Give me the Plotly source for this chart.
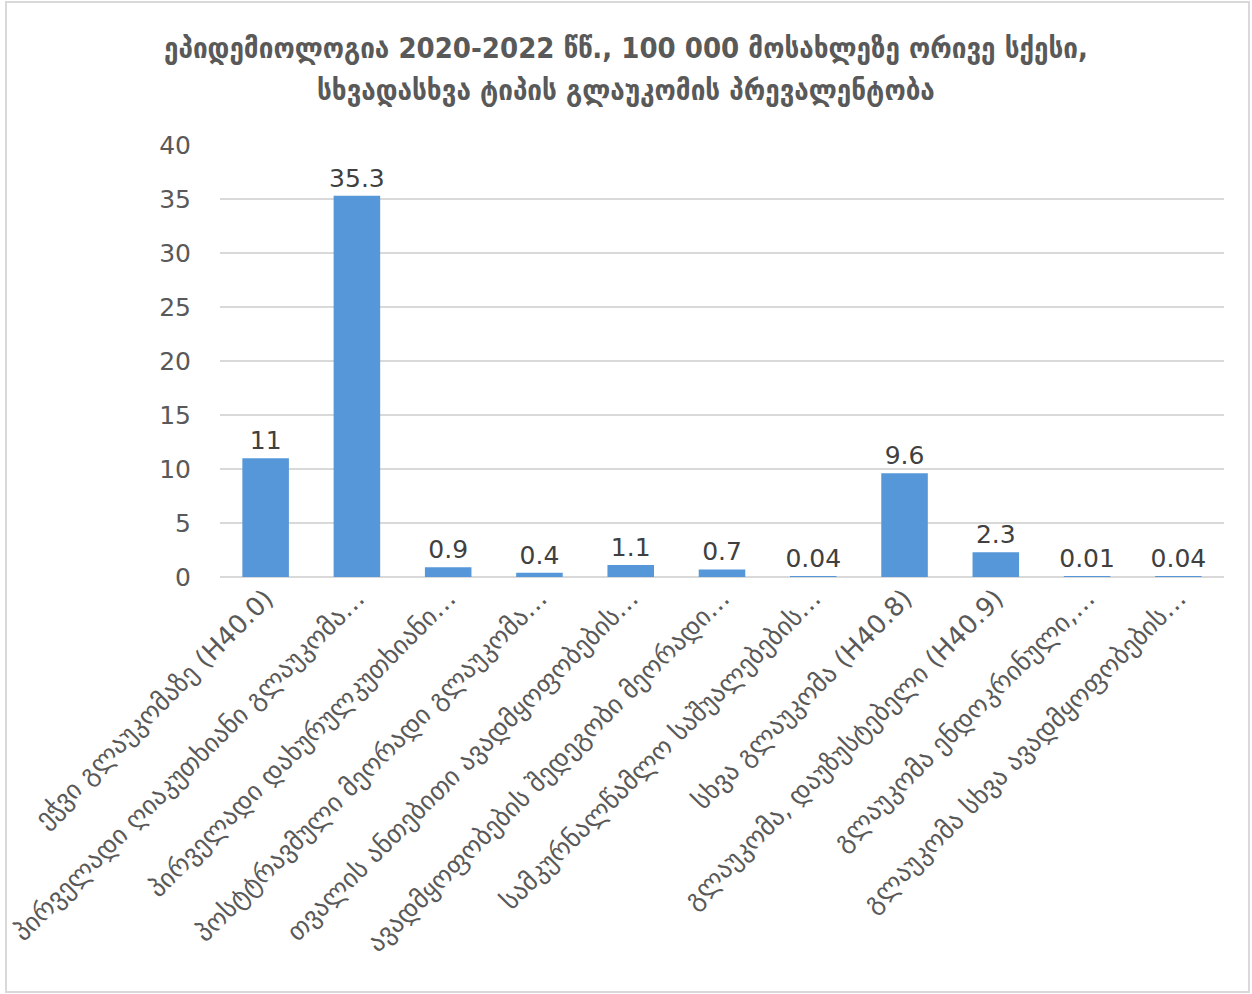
import plotly.graph_objects as go

categories = [
    "ეჭვი გლაუკომაზე (H40.0)",
    "პირველადი ღიაკუთხიანი გლაუკომა…",
    "პირველადი დახურულკუთხიანი…",
    "პოსტტრავმული მეორადი გლაუკომა…",
    "თვალის ანთებითი ავადმყოფობების…",
    "ავადმყოფობების შედეგობი მეორადი…",
    "სამკურნალწამლო საშუალებების…",
    "სხვა გლაუკომა (H40.8)",
    "გლაუკომა, დაუზუსტებელი (H40.9)",
    "გლაუკომა ენდოკრინული,…",
    "გლაუკომა სხვა ავადმყოფობების…",
]
values = [11, 35.3, 0.9, 0.4, 1.1, 0.7, 0.04, 9.6, 2.3, 0.01, 0.04]
value_labels = ["11", "35.3", "0.9", "0.4", "1.1", "0.7", "0.04", "9.6", "2.3", "0.01", "0.04"]
y_ticks = [0, 5, 10, 15, 20, 25, 30, 35, 40]

title_lines = [
    "ეპიდემიოლოგია 2020-2022 წწ., 100 000 მოსახლეზე ორივე სქესი,",
    "სხვადასხვა ტიპის გლაუკომის პრევალენტობა",
]

W, H = 1252, 994
L, R, T, B = 220, 28, 145, 417
pw, ph = W - L - R, H - T - B

fig = go.Figure()
fig.add_trace(go.Bar(
    x=categories,
    y=values,
    text=value_labels,
    textposition="outside",
    constraintext="none",
    textfont=dict(family="DejaVu Sans, sans-serif", size=25, color="#404040"),
    cliponaxis=False,
    marker=dict(color="#5597d8", line=dict(width=0)),
    hoverinfo="x+y",
))

title_font = dict(family="DejaVu Sans Condensed, DejaVu Sans, sans-serif", size=29,
                  color="#595959", weight="bold")
annotations = []
for i, line in enumerate(title_lines):
    ypx = 48 + 42 * i
    annotations.append(dict(
        text=line, showarrow=False,
        xref="paper", yref="paper",
        x=(W / 2 - L) / pw, xanchor="center",
        y=1 + (T - ypx) / ph, yanchor="middle",
        font=title_font,
    ))

fig.update_layout(
    width=W, height=H,
    margin=dict(l=L, r=R, t=T, b=B, autoexpand=False),
    paper_bgcolor="white",
    plot_bgcolor="white",
    bargap=0.49,
    showlegend=False,
    annotations=annotations,
    xaxis=dict(
        type="category",
        tickangle=-45,
        tickfont=dict(family="DejaVu Sans, sans-serif", size=26, color="#595959"),
        showgrid=False,
        showline=False,
        ticks="",
        automargin=False,
    ),
    yaxis=dict(
        range=[0, 40],
        tickvals=y_ticks,
        tickfont=dict(family="DejaVu Sans, sans-serif", size=25, color="#595959"),
        showgrid=True,
        gridcolor="#d9d9d9",
        gridwidth=2,
        zeroline=True,
        zerolinecolor="#d9d9d9",
        zerolinewidth=2,
        showline=False,
        ticks="",
        ticklabelstandoff=28,
        automargin=False,
    ),
    shapes=[dict(
        type="rect", xref="paper", yref="paper",
        x0=(6 - L) / pw, x1=(W - 3 - L) / pw,
        y0=-(B - 2) / ph, y1=1 + (T - 2) / ph,
        line=dict(color="#d9d9d9", width=2),
        fillcolor="rgba(0,0,0,0)",
        layer="below",
    )],
)

fig.write_html("out.html")
